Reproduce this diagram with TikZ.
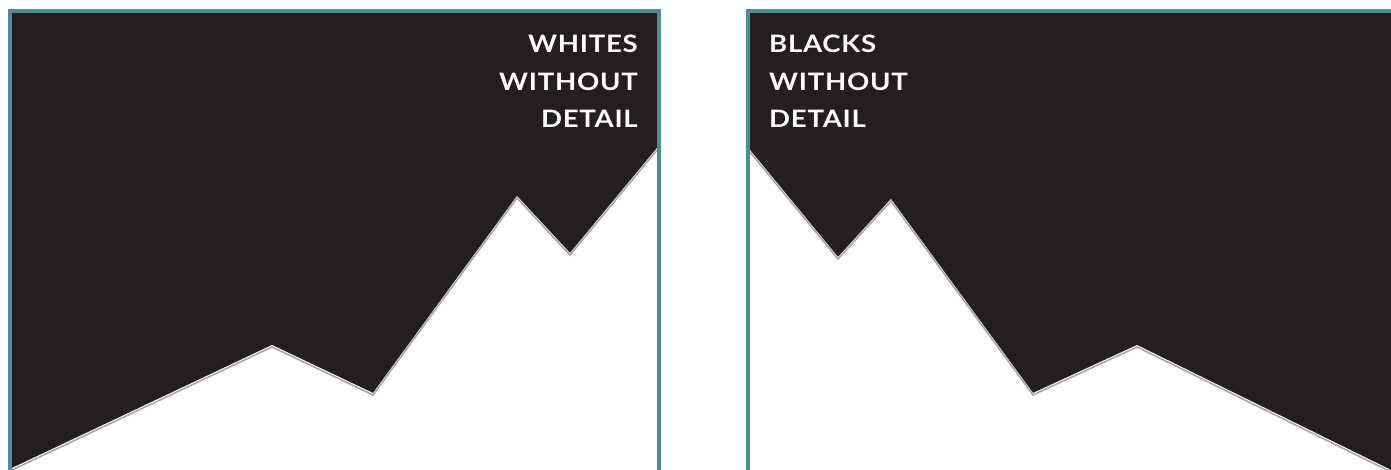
\documentclass[tikz,border=0pt]{standalone}
\usepackage{fontspec}
\setmainfont{Lato}
\newfontfamily\lblfont[LetterSpace=3,FakeStretch=1.15]{Lato}
\definecolor{ink}{HTML}{231F20}
\definecolor{frame}{HTML}{4E8E92}
\definecolor{shade}{HTML}{A8A8A8}
\tikzset{
  lbl/.style={text=white, font=\lblfont\bfseries\fontsize{24}{28}\selectfont, inner sep=0pt},
  panelframe/.style={draw=frame, line width=4pt},
  ridge/.style={draw=shade, line width=1.6pt, line join=miter}
}
\begin{document}
\begin{tikzpicture}[x=1pt,y=-1pt]
\useasboundingbox (0,0) rectangle (1391,470);
% left panel
\fill[ink] (10,11) rectangle (659,470);
\fill[white] (12,468) -- (272,345) -- (373,393) -- (517,196) -- (570,253) -- (657,148) -- (657,470) -- (12,470) -- cycle;
\draw[ridge] (12,470) -- (272,347) -- (373,395) -- (517,198) -- (570,255) -- (657,150);
\draw[panelframe] (10,470) -- (10,11) -- (659,11) -- (659,470);
\node[lbl, anchor=base east] (w1) at (638,53) {WHITES};
\node[lbl, anchor=base east] (w2) at (638,90.5) {WITHOUT};
\node[lbl, anchor=base east] (w3) at (638,128) {DETAIL};
% right panel
\fill[ink] (748,11) rectangle (1391,470);
\fill[white] (750,150) -- (838,257) -- (891,199) -- (1033,393) -- (1137,345) -- (1391,470) -- (750,470) -- cycle;
\draw[ridge] (750,152) -- (838,259) -- (891,201) -- (1033,395) -- (1137,347) -- (1391,472);
\draw[panelframe] (748,470) -- (748,11) -- (1391,11);
\node[lbl, anchor=base west] (b1) at (769,53) {BLACKS};
\node[lbl, anchor=base west] (b2) at (769,90.5) {WITHOUT};
\node[lbl, anchor=base west] (b3) at (769,128) {DETAIL};
\end{tikzpicture}
\end{document}
